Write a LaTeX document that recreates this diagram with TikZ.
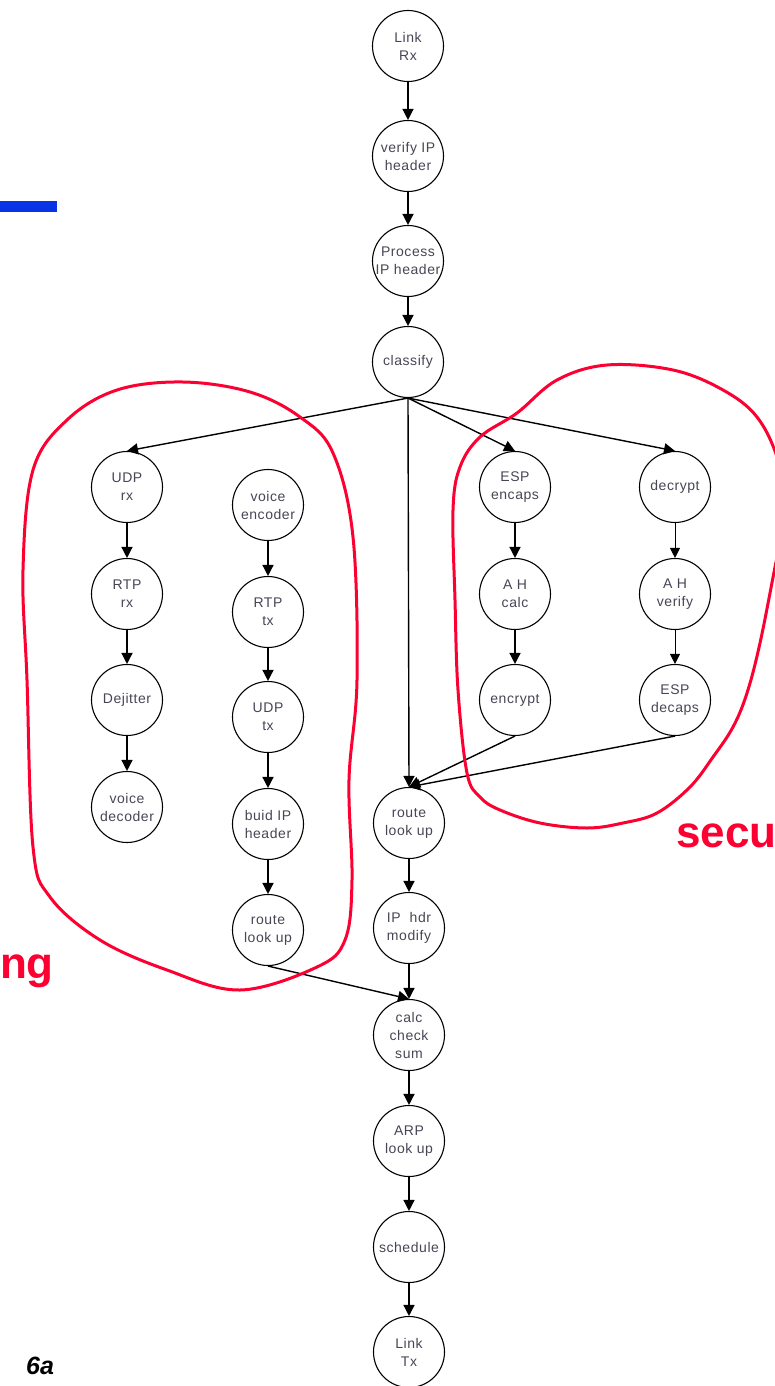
\documentclass[tikz,border=0pt]{standalone}
\usepackage{fontspec}
\setmainfont{Liberation Sans}
\newfontfamily\nodefont[LetterSpace=4]{Liberation Sans}
\usetikzlibrary{arrows.meta}
\definecolor{blobred}{RGB}{252,0,50}
\definecolor{barblue}{RGB}{8,52,230}
\definecolor{txtgray}{RGB}{70,70,85}
\begin{document}
\begin{tikzpicture}[x=1pt,y=-1pt,
  proc/.style={circle,draw=black,line width=1.1pt,minimum size=71pt,inner sep=0pt,
    align=center,font=\nodefont\fontsize{14}{18}\selectfont,text=txtgray},
  flow/.style={line width=1.4pt,-{Triangle[width=11pt,length=11pt]}},
  thinflow/.style={line width=1pt,-{Triangle[width=10pt,length=10pt]}},
  blob/.style={draw=blobred,line width=3pt},
  tag/.style={text=blobred,inner sep=0pt,font=\bfseries\fontsize{44}{44}\selectfont}
]
\useasboundingbox (0,0) rectangle (775,1386);

% main column
\node[proc] (linkrx)   at (408,46)   {Link\\Rx};
\node[proc] (verify)   at (408,156)  {verify IP\\header};
\node[proc] (process)  at (408,261)  {Process\\IP header};
\node[proc] (classify) at (408,362)  {classify};
\node[proc] (route)    at (409,823)  {route\\look up};
\node[proc] (iphdr)    at (409,928)  {IP\ \ hdr\\modify};
\node[proc] (calc)     at (409,1035) {calc\\check\\sum};
\node[proc] (arp)      at (409,1141) {ARP\\look up};
\node[proc] (sched)    at (409,1247) {schedule};
\node[proc] (linktx)   at (409,1352) {Link\\Tx};

% left cluster
\node[proc] (udprx)    at (127,487)  {UDP\\rx};
\node[proc] (rtprx)    at (127,594)  {RTP\\rx};
\node[proc] (dejit)    at (127,700)  {Dejitter};
\node[proc] (vdec)     at (127,807)  {voice\\decoder};
\node[proc] (venc)     at (268,505)  {voice\\encoder};
\node[proc] (rtptx)    at (268,612)  {RTP\\tx};
\node[proc] (udptx)    at (268,717)  {UDP\\tx};
\node[proc] (buildip)  at (268,824)  {buid IP\\header};
\node[proc] (lroute)   at (268,930)  {route\\look up};

% right cluster
\node[proc] (espenc)   at (515,487)  {ESP\\encaps};
\node[proc] (ahcalc)   at (515,594)  {A H\\calc};
\node[proc] (encrypt)  at (515,700)  {encrypt};
\node[proc] (decrypt)  at (675,487)  {decrypt};
\node[proc] (ahver)    at (675,594)  {A H\\verify};
\node[proc] (espdec)   at (675,700)  {ESP\\decaps};

% connectors
\draw[flow] (linkrx.south) -- (verify.north);
\draw[flow] (verify.south) -- (process.north);
\draw[flow] (process.south) -- (classify.north);
\draw[flow] (classify.south) -- (udprx.north);
\draw[flow] (classify.south) -- (route.north);
\draw[flow] (classify.south) -- (espenc.north);
\draw[flow] (classify.south) -- (decrypt.north);
\draw[flow] (udprx.south) -- (rtprx.north);
\draw[flow] (rtprx.south) -- (dejit.north);
\draw[flow] (dejit.south) -- (vdec.north);
\draw[flow] (venc.south) -- (rtptx.north);
\draw[flow] (rtptx.south) -- (udptx.north);
\draw[flow] (udptx.south) -- (buildip.north);
\draw[flow] (buildip.south) -- (lroute.north);
\draw[flow] (espenc.south) -- (ahcalc.north);
\draw[flow] (ahcalc.south) -- (encrypt.north);
\draw[thinflow] (decrypt.south) -- (ahver.north);
\draw[thinflow] (ahver.south) -- (espdec.north);
\draw[flow] (encrypt.south) -- (route.north);
\draw[flow] (espdec.south) -- (route.north);
\draw[flow] (route.south) -- (iphdr.north);
\draw[flow] (iphdr.south) -- (calc.north);
\draw[flow] (lroute.south) -- (calc.north);
\draw[flow] (calc.south) -- (arp.north);
\draw[flow] (arp.south) -- (sched.north);
\draw[flow] (sched.south) -- (linktx.north);

% red outlines
\draw[blob] plot[smooth cycle,tension=0.6] coordinates {
  (183,382) (250,392) (300,417) (333,453) (353,537) (357,680) (349,780)
  (352,880) (345,940) (317,967) (240,990) (167,970) (100,940) (50,897)
  (33,847) (27,680) (23,570) (33,470) (67,420) (117,390)};
\draw[blob] plot[smooth cycle,tension=0.6] coordinates {
  (607,365) (673,370) (723,390) (757,417) (778,460) (786,510) (775,567)
  (760,643) (747,693) (733,727) (713,757) (690,787) (657,813) (623,823)
  (587,828) (540,823) (500,810) (480,797) (467,773) (458,690) (455,600)
  (453,510) (460,467) (480,437) (517,413) (557,380)};

% labels and marks
\fill[barblue] (0,201) rectangle (57,212);
\node[tag,anchor=base east] (ng) at (54,978) {ng};
\node[tag,anchor=base west] (secu) at (676,847) {secu};
\node[anchor=base west,inner sep=0pt,font=\bfseries\itshape\fontsize{25}{25}\selectfont] (pg) at (26,1374) {6a};
\end{tikzpicture}
\end{document}
